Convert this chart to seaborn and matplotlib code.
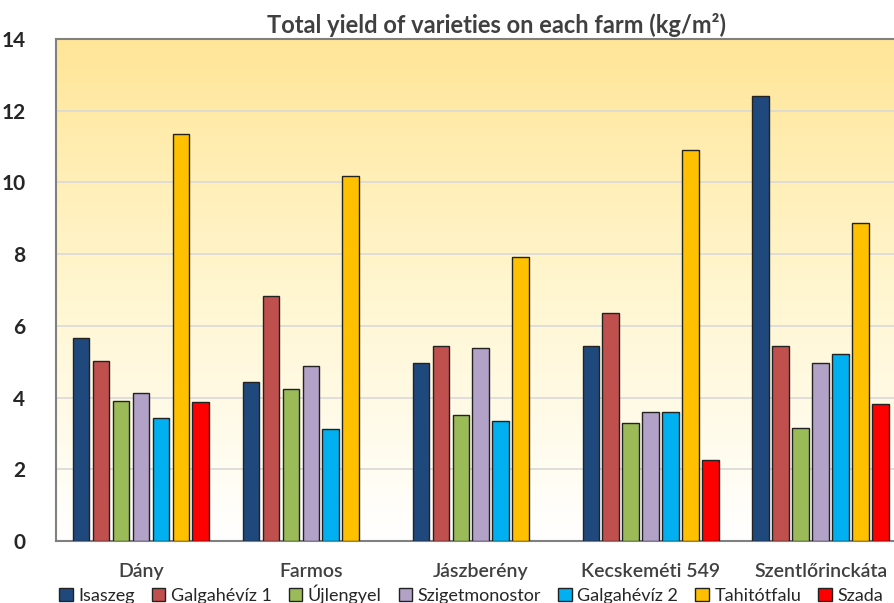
import numpy as np
import pandas as pd
import matplotlib.pyplot as plt
import seaborn as sns
from matplotlib.colors import LinearSegmentedColormap
from matplotlib.patches import Patch

farms = ["Dány", "Farmos", "Jászberény", "Kecskeméti 549", "Szentlőrinckáta"]
varieties = ["Isaszeg", "Galgahévíz 1", "Újlengyel", "Szigetmonostor",
             "Galgahévíz 2", "Tahitótfalu", "Szada"]
colors = ["#1F497D", "#C0504D", "#9BBB59", "#B2A2C7", "#00B0F0", "#FFC000", "#FF0000"]

# yield per variety, one list per farm (nan = not grown there)
dany = [5.67, 5.02, 3.90, 4.13, 3.44, 11.36, 3.87]
farmos = [4.43, 6.84, 4.23, 4.88, 3.12, 10.18, np.nan]
jaszbereny = [4.96, 5.44, 3.51, 5.38, 3.35, 7.92, np.nan]
kecskemeti = [5.44, 6.36, 3.30, 3.59, 3.59, 10.90, 2.26]
szentlorinc = [12.41, 5.43, 3.14, 4.97, 5.21, 8.86, 3.82]

rows = []
for farm, vals in zip(farms, [dany, farmos, jaszbereny, kecskemeti, szentlorinc]):
    for var, v in zip(varieties, vals):
        rows.append({"farm": farm, "variety": var, "yield": v})
df = pd.DataFrame(rows)

sns.set_style("white")
plt.rcParams["font.family"] = ["Lato", "DejaVu Sans"]

fig = plt.figure(figsize=(8.94, 6.03), dpi=100)
W, H = 894, 603
ax = fig.add_axes([56 / W, 1 - 541 / H, 849.5 / W, (541 - 39) / H])

# background gradient: pale orange at top fading to white
grad = LinearSegmentedColormap.from_list("bg", ["#FFFFFF", "#FFF6D0", "#FFE597"])
ax.imshow(np.linspace(0, 1, 256).reshape(-1, 1), cmap=grad, aspect="auto",
          extent=[0, 1, 0, 1], transform=ax.transAxes, origin="lower", zorder=0)

sns.barplot(data=df, x="farm", y="yield", hue="variety", order=farms,
            hue_order=varieties, palette=colors, saturation=1, width=0.821,
            gap=0.167, edgecolor="#222222", linewidth=1.0, ax=ax,
            legend=False, zorder=3)

ax.set_ylim(0, 14)
ax.set_xlim(-0.5, 4.5)
ax.set_yticks(range(0, 15, 2))
ax.yaxis.grid(True, color="#D9D9D9", linewidth=1.2, zorder=1)
ax.set_axisbelow(True)
ax.set_xlabel("")
ax.set_ylabel("")
ax.tick_params(axis="both", length=0)
ax.tick_params(axis="y", pad=22, labelsize=15, labelcolor="#262626")
ax.tick_params(axis="x", pad=16, labelsize=14, labelcolor="#404040")
for lab in ax.get_yticklabels():
    lab.set_fontweight("bold")
for lab in ax.get_xticklabels():
    lab.set_fontweight("semibold")

for side in ["left", "bottom", "top"]:
    ax.spines[side].set_color("#808080")
    ax.spines[side].set_linewidth(1.5)
ax.spines["right"].set_visible(False)

fig.text(0.555, 1 - 25 / H, "Total yield of varieties on each farm (kg/m²)",
         ha="center", va="center", fontsize=17, fontweight="bold", color="#404040")

handles = [Patch(facecolor=c, edgecolor="#222222", linewidth=1.0) for c in colors]
fig.legend(handles, varieties, loc="center", bbox_to_anchor=(0.527, 1 - 594 / H),
           ncol=7, frameon=False, fontsize=13, handlelength=0.75, handleheight=0.75,
           handletextpad=0.3, columnspacing=0.95, labelcolor="#262626",
           borderpad=0.1)

fig.savefig("out.png", dpi=100)
